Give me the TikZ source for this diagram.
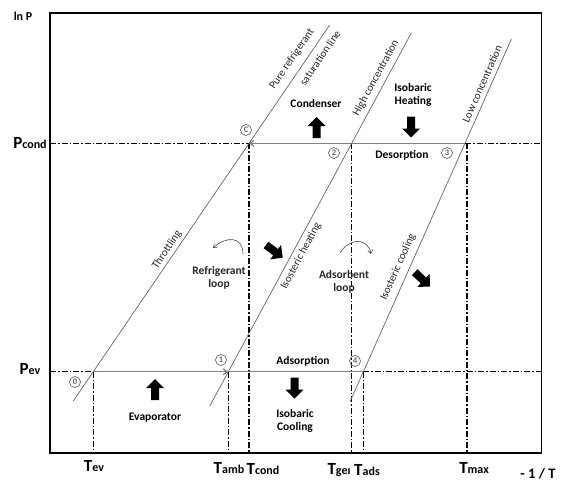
\documentclass[tikz,border=0pt]{standalone}
\usepackage{fontspec}
\setmainfont{Carlito}
\usetikzlibrary{arrows.meta}
\begin{document}
\begin{tikzpicture}[x=1pt,y=-1pt,
  frame/.style={line width=1.7pt},
  dd/.style={line width=1.2pt, dash pattern=on 6pt off 2pt on 1.5pt off 2pt},
  iso/.style={black!60, line width=0.7pt},
  hline/.style={black!50, line width=1.3pt},
  lbl/.style={font=\bfseries\fontsize{11.5}{13}\selectfont, align=center, inner sep=1pt},
  loopl/.style={font=\fontsize{11.5}{13}\selectfont\bfseries, text=black!85, align=center, inner sep=1pt},
  rot/.style={font=\fontsize{11}{12}\selectfont, text=black!85, inner sep=0pt},
  num/.style={circle, draw=black!60, text=black!60, inner sep=0pt, minimum size=11pt, line width=0.7pt, font=\fontsize{8.5}{8.5}\selectfont\bfseries},
  axl/.style={inner sep=1pt},
  curv/.style={black!70, line width=0.6pt, -{Straight Barb[length=3.5pt,width=5pt]}},
  pics/blk/.style={code={\fill[black] (0,-11) -- (9,-2) -- (4,-2) -- (4,10) -- (-4,10) -- (-4,-2) -- (-9,-2) -- cycle;}}
]
\useasboundingbox (0,0) rectangle (561,484);
% frame corners
\coordinate (TL) at (50,13);
\coordinate (BR) at (541.5,453);
% cycle points
\coordinate (C) at (249,143.3);
\coordinate (P2) at (351.7,143.3);
\coordinate (P3) at (465,143.3);
\coordinate (P0) at (93.3,371.7);
\coordinate (P1) at (228.3,371.7);
\coordinate (P4) at (363.3,371.7);
% frame intersections
\coordinate (FLc) at (50,143.3);
\coordinate (FRc) at (541.5,143.3);
\coordinate (FLe) at (50,371.7);
\coordinate (FRe) at (541.5,371.7);
% bottom ends of verticals
\coordinate (Bev) at (93.3,453);
\coordinate (Bamb) at (228.3,453);
\coordinate (Bcond) at (249,453);
\coordinate (Bgen) at (351.7,453);
\coordinate (Bads) at (363.3,453);
\coordinate (Tmx) at (467,143.3);
\coordinate (Bmax) at (467,453);
% diagonal line ends
\coordinate (L1a) at (73.3,401);
\coordinate (L1b) at (329.7,25);
\coordinate (L2a) at (209.8,406);
\coordinate (L2b) at (411.3,33);
\coordinate (L3a) at (350,401.7);
\coordinate (L3b) at (511.4,39);

% frame
\draw[frame] (TL) rectangle (BR);

% dash-dot horizontals
\draw[dd] (FLc) -- (C);
\draw[dd] (P3) -- (FRc);
\draw[dd] (FLe) -- (P0);
\draw[dd] (P4) -- (FRe);
% dash-dot verticals
\draw[dd] (P0) -- (Bev);
\draw[dd] (P1) -- (Bamb);
\draw[dd] (C) -- (Bcond);
\draw[dd] (P2) -- (Bgen);
\draw[dd] (P4) -- (Bads);
\draw[dd] (Tmx) -- (Bmax);

% solid isobars
\draw[hline, -{Straight Barb[length=4pt,width=6pt]}] (P2) -- (C);
\draw[hline] (P2) -- (P3);
\draw[hline, -{Straight Barb[length=4pt,width=6pt]}] (P0) -- (P1);
\draw[hline] (P1) -- (P4);

% isosteres
\draw[iso] (L1a) -- (L1b);
\draw[iso] (L2a) -- (L2b);
\draw[iso] (L3a) -- (L3b);

% rotated labels
\node[rot, rotate=55.7] (tpure) at (292,59) {Pure refrigerant};
\node[rot, rotate=55.7] (tsat) at (320,58) {saturation line};
\node[rot, rotate=55.7] (tthr) at (167,250) {Throttling};
\node[rot, rotate=61.6] (theat) at (301,256) {Isosteric heating};
\node[rot, rotate=61.6] (thigh) at (376,78) {High concentration};
\node[rot, rotate=66] (tcool) at (398,267) {Isosteric cooling};
\node[rot, rotate=66] (tlow) at (482,84) {Low concentration};

% point markers
\node[num] (nC) at (246,130) {C};
\node[num] (n2) at (334,153) {2};
\node[num] (n3) at (447,153) {3};
\node[num] (n0) at (75,382) {0};
\node[num] (n1) at (221,360) {1};
\node[num] (n4) at (355,361) {4};

% process labels
\node[lbl] (cond) at (316,104) {Condenser};
\node[lbl] (iheat) at (413,95) {Isobaric\\Heating};
\node[lbl] (desor) at (402,155) {Desorption};
\node[lbl] (adsor) at (303,361) {Adsorption};
\node[lbl] (evap) at (155,418) {Evaporator};
\node[lbl] (icool) at (295,421) {Isobaric\\Cooling};
\node[loopl] (rloop) at (219,278) {Refrigerant\\loop};
\node[loopl] (aloop) at (344,282) {Adsorbent\\loop};

% block arrows
\pic at (316.7,128) {blk};
\pic[rotate=180] at (411,126.5) {blk};
\pic at (155,390) {blk};
\pic[rotate=180] at (294.5,387.5) {blk};
\pic[rotate=-127] at (274,251) {blk};
\pic[rotate=-133] at (422,279) {blk};

% curved loop arrows
\coordinate (ra) at (243,254);
\coordinate (rb) at (213,248);
\coordinate (aa) at (340,253);
\coordinate (ab) at (371,254);
\draw[curv] (ra) .. controls (243,236) and (226,236) .. (rb);
\draw[curv] (aa) .. controls (350,237) and (368,238) .. (ab);

% axis labels
\node[axl, font=\bfseries\fontsize{12}{12}\selectfont] (lnp) at (23,16) {ln P};
\node[axl, font=\bfseries] (pc) at (30,143) {\fontsize{17}{17}\selectfont P\fontsize{12}{12}\selectfont cond};
\node[axl, font=\bfseries] (pe) at (30,369) {\fontsize{17}{17}\selectfont P\fontsize{12}{12}\selectfont ev};
\node[axl, font=\bfseries] (tev) at (94,466) {\fontsize{17}{17}\selectfont T\fontsize{12}{12}\selectfont ev};
\node[axl, font=\bfseries] (tamb) at (229,468) {\fontsize{17}{17}\selectfont T\fontsize{12}{12}\selectfont amb};
\node[axl, font=\bfseries] (tcond) at (263,469) {\fontsize{17}{17}\selectfont T\fontsize{12}{12}\selectfont cond};
\node[axl, font=\bfseries] (tgen) at (339,470) {\fontsize{17}{17}\selectfont T\fontsize{12}{12}\selectfont geı};
\node[axl, font=\bfseries] (tads) at (367,470) {\fontsize{17}{17}\selectfont T\fontsize{12}{12}\selectfont ads};
\node[axl, font=\bfseries] (tmax) at (474,468) {\fontsize{17}{17}\selectfont T\fontsize{12}{12}\selectfont max};
\node[inner sep=0pt, font=\bfseries\fontsize{14.5}{14.5}\selectfont] (invt) at (538,473.5) {- 1 / T};
\end{tikzpicture}
\end{document}
